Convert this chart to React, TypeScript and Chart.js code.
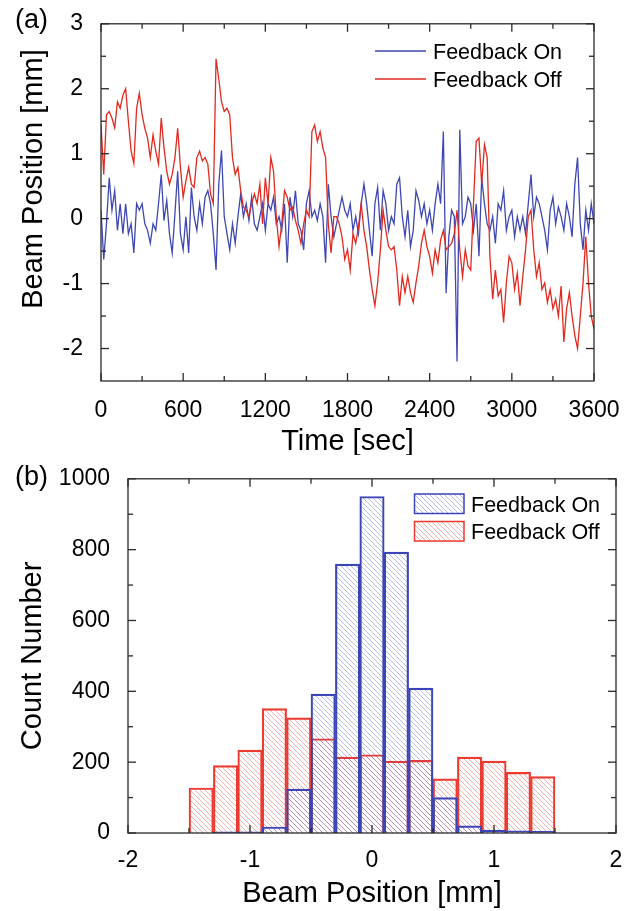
import React, { useEffect, useRef } from 'react';
import { Chart, registerables } from 'chart.js';

Chart.register(...registerables);

const FONT = '"Liberation Sans", Arial, Helvetica, sans-serif';

// ---------- Panel (a): beam position vs time ----------
const TIME_SEC = [
  0, 20, 40, 60, 80, 100, 120, 140, 160, 180,
  200, 220, 240, 260, 280, 300, 320, 340, 360, 380,
  400, 420, 440, 460, 480, 500, 520, 540, 560, 580,
  600, 620, 640, 660, 680, 700, 720, 740, 760, 780,
  800, 820, 840, 860, 880, 900, 920, 940, 960, 980,
  1000, 1020, 1040, 1060, 1080, 1100, 1120, 1140, 1160, 1180,
  1200, 1220, 1240, 1260, 1280, 1300, 1320, 1340, 1360, 1380,
  1400, 1420, 1440, 1460, 1480, 1500, 1520, 1540, 1560, 1580,
  1600, 1620, 1640, 1660, 1680, 1700, 1720, 1740, 1760, 1780,
  1800, 1820, 1840, 1860, 1880, 1900, 1920, 1940, 1960, 1980,
  2000, 2020, 2040, 2060, 2080, 2100, 2120, 2140, 2160, 2180,
  2200, 2220, 2240, 2260, 2280, 2300, 2320, 2340, 2360, 2380,
  2400, 2420, 2440, 2460, 2480, 2500, 2520, 2540, 2560, 2580,
  2600, 2620, 2640, 2660, 2680, 2700, 2720, 2740, 2760, 2780,
  2800, 2820, 2840, 2860, 2880, 2900, 2920, 2940, 2960, 2980,
  3000, 3020, 3040, 3060, 3080, 3100, 3120, 3140, 3160, 3180,
  3200, 3220, 3240, 3260, 3280, 3300, 3320, 3340, 3360, 3380,
  3400, 3420, 3440, 3460, 3480, 3500, 3520, 3540, 3560, 3580,
  3600,
];

const FEEDBACK_ON = [
  0.13, -0.63, -0.08, 0.63, 0.13, 0.43, -0.18, 0.23, -0.23, 0.23,
  -0.23, -0.08, -0.53, 0.23, 0.13, 0.23, -0.08, -0.18, -0.38, -0.08,
  -0.18, 0.23, 0.68, -0.03, 0.28, -0.23, -0.53, 0.08, 0.73, -0.23,
  -0.48, 0.03, -0.53, 0.48, 0.03, -0.18, 0.23, -0.08, 0.33, 0.43,
  0.23, -0.23, -0.79, 0.53, 1.05, 0.03, -0.23, -0.48, -0.08, -0.38,
  0.03, 0.38, 0.03, 0.23, -0.03, 0.33, -0.08, -0.18, 0.03, 0.23,
  -0.18, 0.23, 0.13, 0.33, -0.08, 0.03, -0.18, 0.23, -0.68, 0.33,
  0.03, 0.43, -0.08, -0.18, -0.48, 0.23, 0.43, 0.03, 0.13, -0.03,
  0.23, 0.03, -0.68, 0.53, 0.03, -0.28, -0.08, 0.13, 0.33, 0.13,
  0.03, 0.23, -0.18, 0.03, -0.23, 0.23, 0.53, 0.23, -0.18, -0.58,
  0.23, 0.48, -0.18, 0.43, 0.23, -0.18, 0.03, -0.08, 0.53, 0.63,
  0.03, -0.28, 0.13, -0.43, -0.18, 0.43, 0.28, 0.03, 0.23, -0.08,
  0.13, -0.18, 0.23, 0.53, 0.23, 1.34, -1.15, -0.28, 0.13, 0.03,
  -2.2, 1.37, -0.08, 0.03, 0.33, 0.23, -0.18, 0.23, -0.58, 0.63,
  0.23, -0.08, -0.18, 0.03, -0.38, 0.23, 0.13, 0.43, -0.18, 0.03,
  0.13, -0.28, 0.03, -0.18, 0.03, -0.23, 0.23, 0.68, 0.03, 0.33,
  0.23, 0.03, -0.18, -0.48, 0.13, 0.33, -0.08, 0.18, 0.03, -0.18,
  0.23, 0.03, -0.28, 0.53, 0.94, -0.08, -0.48, 0.13, -0.18, 0.23,
  -0.08,
];

const FEEDBACK_OFF = [
  1.45, 0.68, 1.6, 1.65, 1.55, 1.4, 1.8, 1.7, 1.9, 2.0,
  1.5, 1.04, 0.85, 1.7, 1.93, 1.6, 1.39, 1.24, 0.94, 1.29,
  1.04, 0.84, 1.55, 1.09, 0.73, 0.53, 0.68, 0.94, 1.39, 0.79,
  0.33, 0.58, 0.79, 0.53, 0.48, 0.94, 1.04, 0.89, 0.94, 0.84,
  0.38, 0.23, 2.46, 2.15, 1.8, 1.65, 1.7, 1.6, 0.94, 0.68,
  0.79, 0.43, 0.18, 0.13, 0.03, 0.23, 0.38, 0.23, 0.53, -0.08,
  0.63, 0.23, 0.94, 0.73, 0.03, -0.43, -0.08, 0.43, 0.33, 0.13,
  0.18, -0.03, -0.18, -0.38, -0.08, 0.13, 0.03, 1.34, 1.44, 1.19,
  1.34, 1.09, 0.94, -0.08, -0.53, 0.03, 0.03, -0.08, -0.28, -0.63,
  -0.48, -0.79, -0.23, -0.38, -0.13, 0.23, -0.18, -0.43, -0.79, -1.09,
  -1.34, -0.99, -0.48, 0.13, -0.18, -0.43, -0.48, -0.43, -0.79, -1.34,
  -0.89, -1.14, -0.89, -1.14, -1.29, -0.99, -0.73, -0.38, -0.18, -0.43,
  -0.58, -0.84, -0.48, -0.68, -0.33, -0.18, -0.48, -0.43, -0.38, -0.23,
  0.13, -0.48, -0.89, -0.48, -0.73, -0.79, 0.23, 1.19, 1.24, 0.53,
  1.14, 0.94, -0.58, -1.24, -0.79, -1.19, -1.09, -1.6, -0.99, -0.58,
  -0.68, -1.09, -0.84, -1.34, -0.89, -0.48, 0.03, 0.13, -0.48, -0.89,
  -0.68, -1.09, -0.99, -1.29, -1.09, -1.39, -1.24, -1.5, -1.04, -1.9,
  -1.39, -1.14, -1.5, -1.8, -2.0, -1.5, -0.99, -0.28, -0.99, -1.5,
  -1.7,
];

const TIME_TICKS = [0, 600, 1200, 1800, 2400, 3000, 3600];
const POSITION_TICKS = [-2, -1, 0, 1, 2, 3];

// ---------- Panel (b): histogram ----------
const BIN_CENTERS = [-1.4, -1.2, -1.0, -0.8, -0.6, -0.4, -0.2, 0, 0.2, 0.4, 0.6, 0.8, 1.0, 1.2, 1.4];
const COUNT_ON = [0, 3, 3, 17, 124, 392, 759, 950, 793, 409, 100, 20, 8, 6, 5];
const COUNT_OFF = [127, 190, 234, 351, 325, 266, 214, 221, 203, 205, 153, 214, 203, 171, 159];
const BEAM_TICKS = [-2, -1, 0, 1, 2];
const COUNT_TICKS = [0, 200, 400, 600, 800, 1000];

const SERIES_LABELS = ['Feedback On', 'Feedback Off'];

const BLUE = '#3e47b2';
const RED = '#e2281f';
const BLUE_BAR = '#3c45b6';
const RED_BAR = '#ec3a31';
const AXIS = '#2a2a2a';

function midpoints(vals: number[]): number[] {
  const out: number[] = [];
  for (let i = 0; i < vals.length - 1; i++) out.push((vals[i] + vals[i + 1]) / 2);
  return out;
}

function makeHatch(ctx: CanvasRenderingContext2D, color: string): CanvasPattern {
  const s = 5;
  const c = document.createElement('canvas');
  c.width = s;
  c.height = s;
  const g = c.getContext('2d')!;
  g.strokeStyle = color;
  g.lineWidth = 0.9;
  g.beginPath();
  g.moveTo(-1, -1);
  g.lineTo(s + 1, s + 1);
  g.moveTo(s - 1, -1);
  g.lineTo(s + 1, 1);
  g.moveTo(-1, s - 1);
  g.lineTo(1, s + 1);
  g.stroke();
  return ctx.createPattern(c, 'repeat')!;
}

type TextItem = { text: string; x: number; y: number; size: number; rotate?: boolean; align?: CanvasTextAlign };

function decorPlugin(opts: {
  xMajor: number[];
  yMajor: number[];
  xMinor: number[];
  yMinor: number[];
  texts: (area: any) => TextItem[];
  legend: (ctx: CanvasRenderingContext2D) => void;
}) {
  return {
    id: 'decor',
    afterDraw(chart: any) {
      const { ctx, chartArea: a, scales } = chart;
      const xs = scales.x;
      const ys = scales.y;
      ctx.save();
      ctx.strokeStyle = AXIS;
      ctx.lineWidth = 1.3;
      ctx.strokeRect(a.left, a.top, a.right - a.left, a.bottom - a.top);
      const seg = (x1: number, y1: number, x2: number, y2: number) => {
        ctx.beginPath();
        ctx.moveTo(x1, y1);
        ctx.lineTo(x2, y2);
        ctx.stroke();
      };
      const xt = (v: number, len: number) => {
        const p = xs.getPixelForValue(v);
        seg(p, a.bottom, p, a.bottom - len);
        seg(p, a.top, p, a.top + len);
      };
      const yt = (v: number, len: number) => {
        const p = ys.getPixelForValue(v);
        seg(a.left, p, a.left + len, p);
        seg(a.right, p, a.right - len, p);
      };
      opts.xMajor.forEach((v) => xt(v, 8));
      opts.xMinor.forEach((v) => xt(v, 5));
      opts.yMajor.forEach((v) => yt(v, 8));
      opts.yMinor.forEach((v) => yt(v, 5));

      ctx.fillStyle = '#000';
      ctx.textBaseline = 'alphabetic';
      opts.texts(a).forEach((t) => {
        ctx.save();
        ctx.font = `${t.size}px ${FONT}`;
        ctx.textAlign = t.align || 'center';
        ctx.translate(t.x, t.y);
        if (t.rotate) ctx.rotate(-Math.PI / 2);
        ctx.fillText(t.text, 0, 0);
        ctx.restore();
      });
      opts.legend(ctx);
      ctx.restore();
    },
  };
}

const tickFont = { family: FONT, size: 23 };

function PanelA() {
  const ref = useRef<HTMLCanvasElement>(null);
  useEffect(() => {
    const canvas = ref.current!;
    const plugin = decorPlugin({
      xMajor: TIME_TICKS,
      yMajor: POSITION_TICKS,
      xMinor: midpoints(TIME_TICKS),
      yMinor: [-1.5, -0.5, 0.5, 1.5, 2.5],
      texts: (a) => [
        { text: '(a)', x: 15, y: 28, size: 27, align: 'left' },
        { text: 'Time [sec]', x: (a.left + a.right) / 2, y: 450, size: 29 },
        { text: 'Beam Position [mm]', x: 42, y: 179, size: 29, rotate: true },
      ],
      legend: (ctx) => {
        const rows = [
          { label: SERIES_LABELS[0], color: BLUE, y: 51, base: 58.5 },
          { label: SERIES_LABELS[1], color: RED, y: 79, base: 86.5 },
        ];
        rows.forEach((r) => {
          ctx.strokeStyle = r.color;
          ctx.lineWidth = 1.3;
          ctx.beginPath();
          ctx.moveTo(375, r.y);
          ctx.lineTo(426, r.y);
          ctx.stroke();
          ctx.fillStyle = '#000';
          ctx.font = `21.5px ${FONT}`;
          ctx.textAlign = 'left';
          ctx.textBaseline = 'alphabetic';
          ctx.fillText(r.label, 433, r.base);
        });
      },
    });
    const chart = new Chart(canvas, {
      type: 'line',
      data: {
        datasets: [
          {
            label: SERIES_LABELS[0],
            data: TIME_SEC.map((t, i) => ({ x: t, y: FEEDBACK_ON[i] })),
            borderColor: BLUE,
            borderWidth: 1.3,
            pointRadius: 0,
            tension: 0,
            fill: false,
            order: 1,
          },
          {
            label: SERIES_LABELS[1],
            data: TIME_SEC.map((t, i) => ({ x: t, y: FEEDBACK_OFF[i] })),
            borderColor: RED,
            borderWidth: 1.3,
            pointRadius: 0,
            tension: 0,
            fill: false,
            order: 0,
          },
        ],
      },
      options: {
        responsive: false,
        animation: false,
        events: [],
        layout: { padding: { left: 0, top: 19, right: 43, bottom: 0 } },
        plugins: { legend: { display: false }, tooltip: { enabled: false }, title: { display: false } },
        scales: {
          x: {
            type: 'linear',
            min: 0,
            max: 3600,
            grid: { display: false },
            border: { display: false },
            ticks: { font: tickFont, color: '#000', padding: 8, maxRotation: 0, autoSkip: false, callback: (v: any) => String(v) },
            afterBuildTicks: (s: any) => {
              s.ticks = TIME_TICKS.map((v) => ({ value: v }));
            },
            afterFit: (s: any) => {
              s.height = 74;
            },
          },
          y: {
            type: 'linear',
            min: -2.5,
            max: 3,
            grid: { display: false },
            border: { display: false },
            ticks: { font: tickFont, color: '#000', padding: 10, autoSkip: false, callback: (v: any) => String(v) },
            afterBuildTicks: (s: any) => {
              s.ticks = POSITION_TICKS.map((v) => ({ value: v }));
            },
            afterFit: (s: any) => {
              s.width = 101;
            },
          },
        },
      } as any,
      plugins: [plugin as any],
    });
    return () => chart.destroy();
  }, []);
  return (
    <canvas
      ref={ref}
      width={637}
      height={455}
      style={{ position: 'absolute', left: 0, top: 0, width: 637, height: 455, display: 'block' }}
    />
  );
}

function PanelB() {
  const ref = useRef<HTMLCanvasElement>(null);
  useEffect(() => {
    const canvas = ref.current!;
    const ctx2d = canvas.getContext('2d')!;
    const hatchBlue = makeHatch(ctx2d, 'rgba(80,90,205,0.45)');
    const hatchRed = makeHatch(ctx2d, 'rgba(240,80,70,0.5)');
    const plugin = decorPlugin({
      xMajor: BEAM_TICKS,
      yMajor: COUNT_TICKS,
      xMinor: midpoints(BEAM_TICKS),
      yMinor: midpoints(COUNT_TICKS),
      texts: (a) => [
        { text: '(b)', x: 15, y: 30, size: 27, align: 'left' },
        { text: 'Beam Position [mm]', x: (a.left + a.right) / 2, y: 447, size: 29 },
        { text: 'Count Number', x: 41, y: (a.top + a.bottom) / 2, size: 29, rotate: true },
      ],
      legend: (ctx) => {
        const rows = [
          { label: SERIES_LABELS[0], fill: hatchBlue, stroke: BLUE_BAR, top: 38.5, base: 56.7 },
          { label: SERIES_LABELS[1], fill: hatchRed, stroke: RED_BAR, top: 66, base: 83.5 },
        ];
        rows.forEach((r) => {
          ctx.fillStyle = r.fill;
          ctx.fillRect(414, r.top, 50, 20);
          ctx.strokeStyle = r.stroke;
          ctx.lineWidth = 1.5;
          ctx.strokeRect(414.5, r.top + 0.5, 49.5, 19.5);
          ctx.fillStyle = '#000';
          ctx.font = `21.5px ${FONT}`;
          ctx.textAlign = 'left';
          ctx.textBaseline = 'alphabetic';
          ctx.fillText(r.label, 471, r.base);
        });
      },
    });
    const chart = new Chart(canvas, {
      type: 'bar',
      data: {
        datasets: [
          {
            label: SERIES_LABELS[0],
            data: BIN_CENTERS.map((c, i) => ({ x: c, y: COUNT_ON[i] })),
            backgroundColor: hatchBlue,
            borderColor: BLUE_BAR,
            borderWidth: 1.5,
            grouped: false,
            barPercentage: 1,
            categoryPercentage: 1,
            order: 0,
          },
          {
            label: SERIES_LABELS[1],
            data: BIN_CENTERS.map((c, i) => ({ x: c, y: COUNT_OFF[i] })),
            backgroundColor: hatchRed,
            borderColor: RED_BAR,
            borderWidth: 1.5,
            grouped: false,
            barPercentage: 1,
            categoryPercentage: 1,
            order: 1,
          },
        ],
      },
      options: {
        responsive: false,
        animation: false,
        events: [],
        layout: { padding: { left: 0, top: 19, right: 21, bottom: 0 } },
        plugins: { legend: { display: false }, tooltip: { enabled: false }, title: { display: false } },
        scales: {
          x: {
            type: 'linear',
            min: -2,
            max: 2,
            offset: false,
            grid: { display: false, offset: false },
            border: { display: false },
            ticks: { font: tickFont, color: '#000', padding: 6, maxRotation: 0, autoSkip: false, callback: (v: any) => String(v) },
            afterBuildTicks: (s: any) => {
              s.ticks = BEAM_TICKS.map((v) => ({ value: v }));
            },
            afterFit: (s: any) => {
              s.height = 78;
            },
          },
          y: {
            type: 'linear',
            min: 0,
            max: 1000,
            grid: { display: false },
            border: { display: false },
            ticks: { font: tickFont, color: '#000', padding: 10, autoSkip: false, callback: (v: any) => String(v) },
            afterBuildTicks: (s: any) => {
              s.ticks = COUNT_TICKS.map((v) => ({ value: v }));
            },
            afterFit: (s: any) => {
              s.width = 128;
            },
          },
        },
      } as any,
      plugins: [plugin as any],
    });
    return () => chart.destroy();
  }, []);
  return (
    <canvas
      ref={ref}
      width={637}
      height={456}
      style={{ position: 'absolute', left: 0, top: 455, width: 637, height: 456, display: 'block' }}
    />
  );
}

export default function App() {
  return (
    <div style={{ position: 'absolute', left: 0, top: 0, width: 637, height: 911, background: '#fff', overflow: 'hidden' }}>
      <PanelA />
      <PanelB />
    </div>
  );
}
